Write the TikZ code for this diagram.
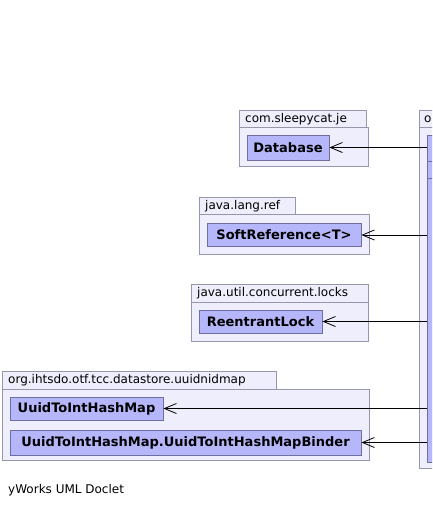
\documentclass[tikz,border=0pt]{standalone}
\usepackage{fontspec}
\setmainfont{DejaVu Sans}
\definecolor{pkgfill}{RGB}{238, 238, 252}
\definecolor{pkgline}{RGB}{150, 150, 172}
\definecolor{clsfill}{RGB}{182, 182, 250}
\definecolor{clsline}{RGB}{110, 110, 160}
\usetikzlibrary{arrows.meta}

\tikzset{
  pkgbox/.style={draw=pkgline, fill=pkgfill, line width=0.8pt},
  pkglabel/.style={anchor=west, inner sep=0pt, font=\fontsize{12}{14}\selectfont},
  classbox/.style={draw=clsline, fill=clsfill, line width=0.8pt, inner sep=0pt,
    font=\bfseries\fontsize{13}{15}\selectfont},
  uses/.style={draw, line width=0.8pt, -{Straight Barb[length=12pt, width=10pt, line width=0.8pt]}}
}

\begin{document}
\begin{tikzpicture}[x=1pt, y=-1pt]
  \useasboundingbox (0,0) rectangle (432,507);
  \clip (0,0) rectangle (432,507);

  % === com.sleepycat.je ===
  \filldraw[pkgbox] (239,110) rectangle (366,127);
  \filldraw[pkgbox] (239,127) rectangle (368,166);
  \node[pkglabel] (je) at (245,119) {com.sleepycat.je};
  \node[classbox, minimum width=82pt, minimum height=25pt] (db) at (288,147.5) {Database};

  % === java.lang.ref ===
  \filldraw[pkgbox] (199,197) rectangle (295,214);
  \filldraw[pkgbox] (199,214) rectangle (369,254);
  \node[pkglabel] (ref) at (205,206) {java.lang.ref};
  \node[classbox, minimum width=154pt, minimum height=23pt] (softref) at (284,234.5) {SoftReference<T>};

  % === java.util.concurrent.locks ===
  \filldraw[pkgbox] (191,284) rectangle (368,302);
  \filldraw[pkgbox] (191,302) rectangle (368,341);
  \node[pkglabel] (locks) at (197,293) {java.util.concurrent.locks};
  \node[classbox, minimum width=123pt, minimum height=23pt] (lock) at (260.5,321.5) {ReentrantLock};

  % === org.ihtsdo.otf.tcc.datastore.uuidnidmap ===
  \filldraw[pkgbox] (2,371) rectangle (276,389);
  \filldraw[pkgbox] (2,389) rectangle (369,460);
  \node[pkglabel] (uuidnid) at (8,380) {org.ihtsdo.otf.tcc.datastore.uuidnidmap};
  \node[classbox, minimum width=153pt, minimum height=23pt] (hashmap) at (86.5,408.5) {UuidToIntHashMap};
  \node[classbox, minimum width=351pt, minimum height=25pt] (binder) at (185.5,442.5) {UuidToIntHashMap.UuidToIntHashMapBinder};

  % === right package (cut off) ===
  \filldraw[pkgbox] (419,110) rectangle (470,127);
  \filldraw[pkgbox] (419,127) rectangle (470,468);
  \node[pkglabel] (org) at (424,119) {o};
  \node[classbox, minimum width=50pt, minimum height=327pt] (main) at (452,298.5) {};
  \draw[clsline, line width=0.8pt] (427,161) -- (470,161);
  \draw[clsline, line width=0.8pt] (427,178) -- (470,178);

  % uses
  \draw[uses] (main.west |- db.east) -- (db.east);
  \draw[uses] (main.west |- 0,235) -- (softref.east |- 0,235);
  \draw[uses] (main.west |- lock.east) -- (lock.east);
  \draw[uses] (main.west |- hashmap.east) -- (hashmap.east);
  \draw[uses] (main.west |- binder.east) -- (binder.east);

  % footer
  \node[pkglabel] (doclet) at (8,490) {yWorks UML Doclet};
\end{tikzpicture}
\end{document}
